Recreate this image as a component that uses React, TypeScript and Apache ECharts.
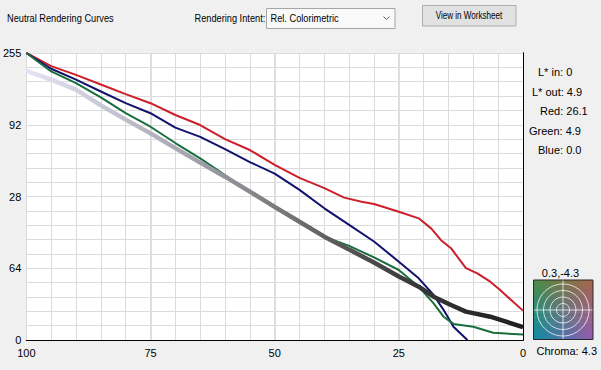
import React, { useEffect, useRef } from 'react';
import * as echarts from 'echarts';

// ---- data (x = L* in, y = output on the 0..255 axis) ----
const RED_X = [100, 95, 90, 85, 80, 75, 70, 65, 60, 55, 50, 45, 40, 36, 32.5, 30, 25, 21, 18.5, 16.5, 14.5, 11.5, 9.2, 6.6, 4.6, 2, 0];
const RED_Y = [255, 243.3, 235.6, 227, 218.5, 210.4, 199.9, 191, 178.5, 168.8, 155.6, 144.1, 134.9, 126.5, 122.9, 120.9, 114, 108.1, 99.2, 88.7, 81.6, 63.8, 59.2, 51.8, 44.4, 33.9, 26.1];

const BLUE_X = [100, 95, 90, 85, 80, 75, 70, 65, 60, 55, 50, 45, 40, 35, 30, 25, 21, 18, 16, 14, 11.2];
const BLUE_Y = [255, 241, 231.3, 220.8, 210.4, 201.5, 188.7, 180.5, 169.6, 158.1, 147.9, 133.4, 117, 102.3, 87.5, 69.6, 54.8, 40, 26.8, 11.7, 0];

const GREEN_X = [100, 95, 90, 85, 80, 75, 70, 65, 60, 55, 50, 45, 40, 35, 30, 25, 21, 18, 16, 14, 10, 6, 0];
const GREEN_Y = [255, 238.7, 228.2, 215.5, 201.5, 189.5, 175, 161.4, 146.6, 131.3, 117.3, 104.6, 91.8, 83.6, 73.4, 62.2, 47.4, 32.6, 20.7, 14.3, 11.7, 6.4, 4.9];

const NEUTRAL_X = [100, 95, 90, 85, 80, 75, 70, 65, 60, 55, 50, 45, 40, 35, 30, 25, 21, 18, 14.5, 11.5, 6.6, 0];
const NEUTRAL_Y = [239.2, 231.3, 222.4, 208.5, 195.8, 183.6, 170.5, 157.6, 145.1, 131.8, 118.3, 105.1, 91.8, 80.3, 68.9, 56.4, 47.4, 38.5, 31.1, 25.2, 20.7, 11.5];

const X_TICK_LABELS = ['100', '75', '50', '25', '0'];
const X_TICK_VALUES = [100, 75, 50, 25, 0];
const Y_TICK_LABELS = ['0', '64', '28', '92', '255'];

const READOUT_LABELS = ['L* in', 'L* out', 'Red', 'Green', 'Blue'];
const READOUT_VALUES = ['0', '4.9', '26.1', '4.9', '0.0'];
const CHROMA_AB = '0.3,-4.3';
const CHROMA_VALUE = '4.3';

const TITLE = 'Neutral Rendering Curves';
const INTENT_LABEL = 'Rendering Intent:';
const INTENT_VALUE = 'Rel. Colorimetric';
const BUTTON_LABEL = 'View in Worksheet';

const FONT = '"Liberation Sans", Arial, sans-serif';

const zip = (xs: number[], ys: number[]) => xs.map((x, i) => [x, ys[i]]);

function hexToRgb(h: string) {
  const n = parseInt(h.slice(1), 16);
  return [(n >> 16) & 255, (n >> 8) & 255, n & 255];
}
function mix(a: string, b: string, t: number) {
  const A = hexToRgb(a), B = hexToRgb(b);
  const c = A.map((v, i) => Math.round(v + (B[i] - v) * t));
  return `rgb(${c[0]},${c[1]},${c[2]})`;
}

function buildGraphic() {
  const els: any[] = [];
  const txt = (text: string, x: number, y: number, size: number, opts: any = {}) => ({
    type: 'text',
    x,
    y,
    scaleX: opts.scaleX ?? 1,
    z: 10,
    style: {
      text,
      x: 0,
      y: 0,
      font: `${size}px ${FONT}`,
      fill: '#000',
      textAlign: opts.align ?? 'left',
      align: opts.align ?? 'left',
      textVerticalAlign: 'middle',
      verticalAlign: 'middle',
    },
  });
  // top bar
  els.push(txt(TITLE, 7, 18, 11, { scaleX: 0.84 }));
  els.push(txt(INTENT_LABEL, 194.5, 18, 11, { scaleX: 0.84 }));
  els.push({
    type: 'rect',
    shape: { x: 266.5, y: 8.5, width: 128.5, height: 20 },
    style: { fill: '#f9f9f9', stroke: '#a6a6a6', lineWidth: 1 },
  });
  els.push(txt(INTENT_VALUE, 270.5, 18.5, 11, { scaleX: 0.84 }));
  els.push({
    type: 'polyline',
    shape: { points: [[383.5, 16.5], [386.5, 19.5], [389.5, 16.5]] },
    style: { stroke: '#606060', lineWidth: 1, fill: 'none' },
  });
  els.push({
    type: 'rect',
    shape: { x: 422.5, y: 5.5, width: 93.5, height: 20.5 },
    style: { fill: '#e1e1e1', stroke: '#adadad', lineWidth: 1 },
  });
  els.push(txt(BUTTON_LABEL, 469, 16, 10, { scaleX: 0.81, align: 'center' }));

  // readouts
  const rx = [538, 532, 540, 529, 538];
  const ry = [71.5, 91.5, 111, 130.5, 150];
  READOUT_LABELS.forEach((l, i) => {
    els.push(txt(`${l}: ${READOUT_VALUES[i]}`, rx[i], ry[i], 11));
  });

  // chroma box
  const bx = 533.5, by = 280, bw = 59.5, bh = 59.5;
  const TL = '#4a8c46', TR = '#a8644a', BL = '#0a8ca6', BR = '#965ab2';
  const N = 24;
  for (let i = 0; i < N; i++) {
    const t = (i + 0.5) / N;
    els.push({
      type: 'rect',
      shape: { x: bx, y: by + (i * bh) / N, width: bw, height: bh / N + 0.6 },
      style: {
        fill: new echarts.graphic.LinearGradient(0, 0, 1, 0, [
          { offset: 0, color: mix(TL, BL, t) },
          { offset: 1, color: mix(TR, BR, t) },
        ]),
      },
    });
  }
  const cx = 563, cy = 310;
  [6.5, 13, 19.5, 26].forEach((r) => {
    els.push({
      type: 'circle',
      shape: { cx, cy, r },
      style: { fill: 'none', stroke: 'rgba(255,255,255,0.75)', lineWidth: 1 },
    });
  });
  els.push({ type: 'line', shape: { x1: bx, y1: cy, x2: bx + bw, y2: cy }, style: { stroke: 'rgba(255,255,255,0.75)', lineWidth: 1 } });
  els.push({ type: 'line', shape: { x1: cx, y1: by, x2: cx, y2: by + bh }, style: { stroke: 'rgba(255,255,255,0.75)', lineWidth: 1 } });
  els.push({
    type: 'rect',
    shape: { x: bx, y: by, width: bw, height: bh },
    style: { fill: 'none', stroke: '#2a2a2a', lineWidth: 1 },
  });
  els.push(txt(CHROMA_AB, 560.5, 273, 11, { align: 'center' }));
  els.push(txt(`Chroma: ${CHROMA_VALUE}`, 536.5, 351, 11));
  return els;
}

export default function App() {
  const ref = useRef<HTMLDivElement>(null);
  useEffect(() => {
    if (!ref.current) return;
    const chart = echarts.init(ref.current, undefined, { renderer: 'svg' });
    const grid = { left: 20, top: 53, width: 503, height: 287 };
    const option: any = {
      animation: false,
      backgroundColor: '#f0f0f0',
      textStyle: { fontFamily: FONT },
      grid: { ...grid, show: true, backgroundColor: '#ffffff', borderWidth: 0 },
      xAxis: [
        {
          type: 'value',
          min: 0,
          max: 100,
          interval: 5,
          inverse: true,
          position: 'bottom',
          axisLine: { show: true, lineStyle: { color: '#000', width: 1 } },
          axisTick: { show: false },
          splitLine: { show: true, lineStyle: { color: '#dcdcdc', width: 1 } },
          axisLabel: {
            color: '#000',
            fontSize: 11,
            margin: 7,
            formatter: (v: number) => {
              const i = X_TICK_VALUES.indexOf(Math.round(v));
              return i >= 0 && Math.abs(v - Math.round(v)) < 1e-6 ? X_TICK_LABELS[i] : '';
            },
          },
        },
        {
          type: 'value',
          min: 0,
          max: 100,
          interval: 25,
          inverse: true,
          position: 'top',
          axisLine: { show: true, lineStyle: { color: '#000', width: 1 } },
          axisTick: { show: false },
          axisLabel: { show: false },
          splitLine: { show: true, showMinLine: false, showMaxLine: false, lineStyle: { color: '#dedede', width: 2 } },
        },
      ],
      yAxis: [
        {
          type: 'value',
          min: 0,
          max: 255,
          interval: 12.75,
          position: 'left',
          axisLine: { show: true, lineStyle: { color: '#000', width: 1 } },
          axisTick: { show: false },
          splitLine: { show: true, lineStyle: { color: '#dcdcdc', width: 1 } },
          axisLabel: {
            color: '#000',
            fontSize: 11,
            margin: 5,
            formatter: (v: number) => {
              const k = Math.round(v / 12.75);
              return k % 5 === 0 ? Y_TICK_LABELS[k / 5] : '';
            },
          },
        },
        {
          type: 'value',
          min: 0,
          max: 255,
          position: 'right',
          axisLine: { show: true, lineStyle: { color: '#000', width: 1 } },
          axisTick: { show: false },
          axisLabel: { show: false },
          splitLine: { show: false },
        },
      ],
      series: [
        {
          type: 'line',
          name: 'Red',
          data: zip(RED_X, RED_Y),
          showSymbol: false,
          lineStyle: { color: '#cc1f2c', width: 2 },
          z: 3,
        },
        {
          type: 'line',
          name: 'Blue',
          data: zip(BLUE_X, BLUE_Y),
          showSymbol: false,
          lineStyle: { color: '#12126e', width: 2 },
          z: 3,
        },
        {
          type: 'line',
          name: 'Green',
          data: zip(GREEN_X, GREEN_Y),
          showSymbol: false,
          lineStyle: { color: '#1a6e3e', width: 2 },
          z: 3,
        },
        {
          type: 'line',
          name: 'Neutral',
          data: zip(NEUTRAL_X, NEUTRAL_Y),
          showSymbol: false,
          lineStyle: {
            width: 4.5,
            color: new echarts.graphic.LinearGradient(0, 0, 1, 0, [
              { offset: 0, color: '#e4e4f4' },
              { offset: 0.15, color: '#c8c8d6' },
              { offset: 0.32, color: '#a6a6b0' },
              { offset: 0.5, color: '#7c7c80' },
              { offset: 0.64, color: '#565656' },
              { offset: 0.78, color: '#383838' },
              { offset: 1, color: '#1e1e1e' },
            ]),
          },
          z: 4,
        },
      ],
      graphic: buildGraphic(),
    };
    chart.setOption(option);
    return () => chart.dispose();
  }, []);
  return (
    <div
      ref={ref}
      style={{ position: 'absolute', left: 0, top: 0, width: 601, height: 370, background: '#f0f0f0' }}
    />
  );
}
